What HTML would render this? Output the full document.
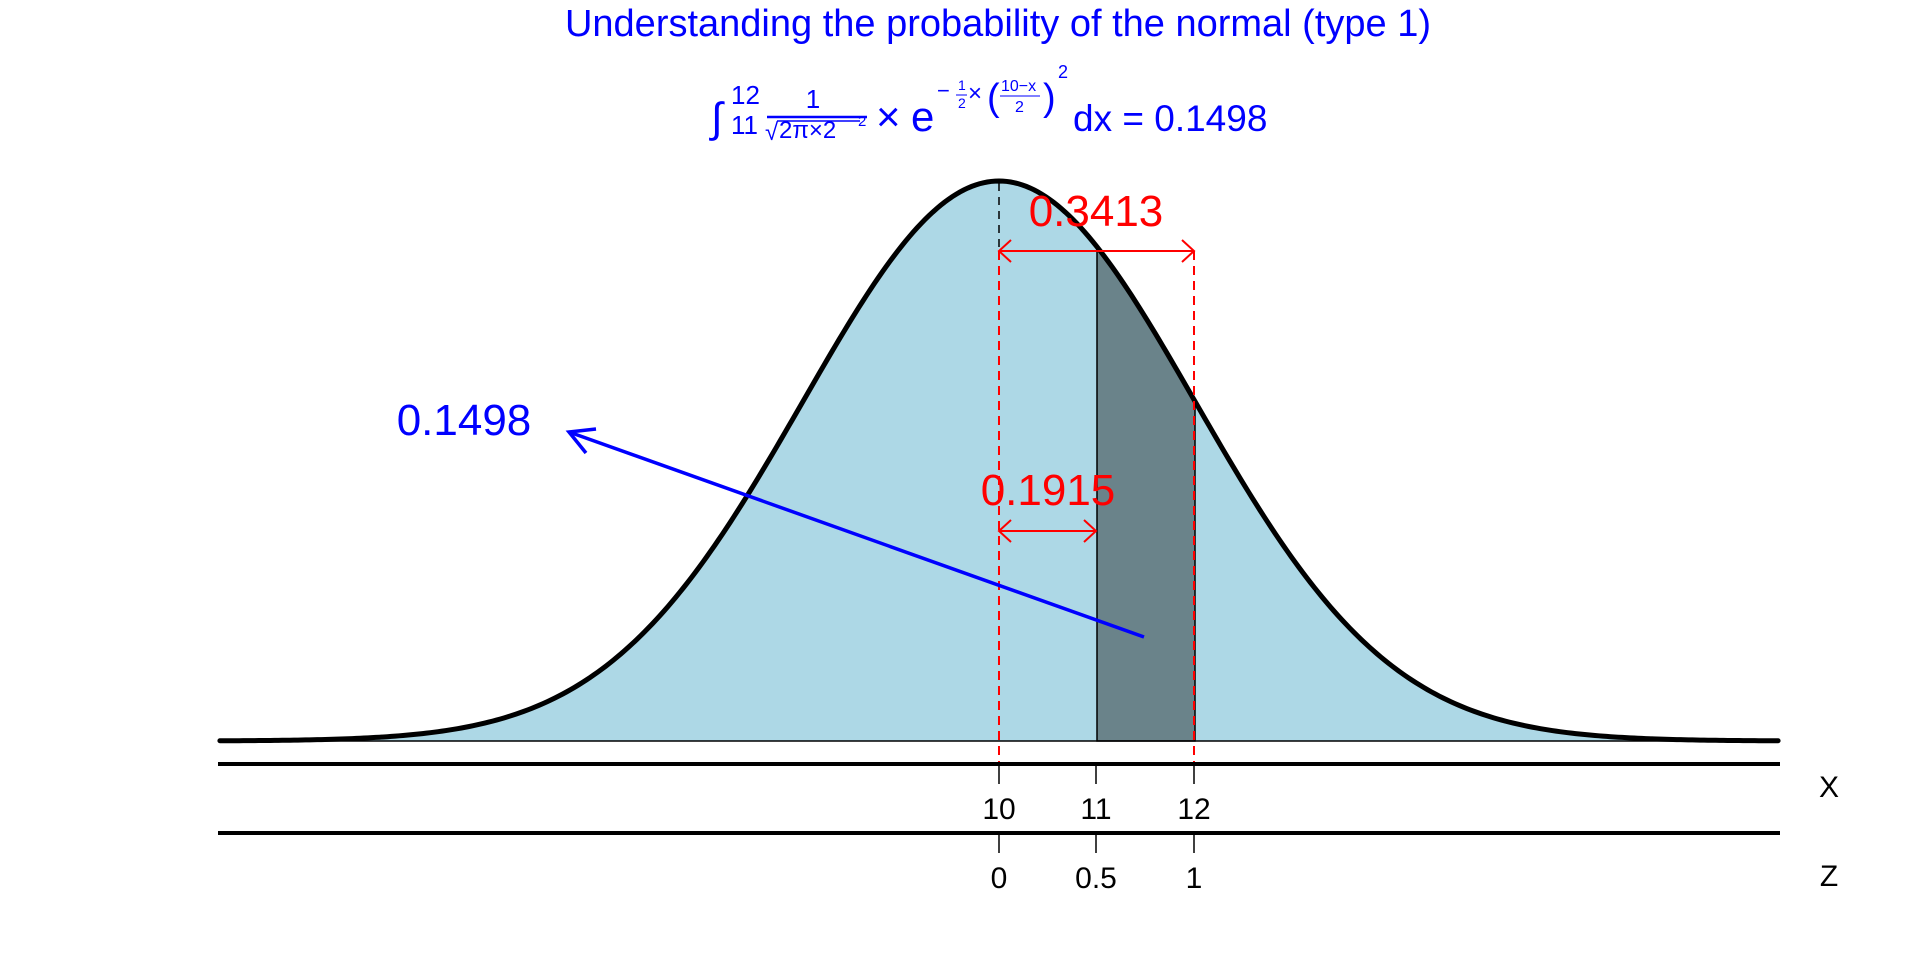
<!DOCTYPE html>
<html><head><meta charset="utf-8"><style>html,body{margin:0;padding:0;background:#fff}svg{display:block}</style></head>
<body>
<svg id="s" width="1920" height="960" xmlns="http://www.w3.org/2000/svg" font-family="Liberation Sans, sans-serif">
<g id="curve"></g>
<line x1="999" y1="183" x2="999" y2="251" stroke="#000" stroke-width="1.5" stroke-dasharray="8,6"/>
<line x1="999" y1="251" x2="999" y2="764" stroke="#f00" stroke-width="2" stroke-dasharray="9,6"/>
<line x1="1194" y1="251" x2="1194" y2="764" stroke="#f00" stroke-width="2" stroke-dasharray="9,6"/>
<g stroke="#f00" stroke-width="2" fill="none">
<line x1="999" y1="251" x2="1194" y2="251"/>
<polyline points="1011,240 999,251 1011,262"/><polyline points="1182,240 1194,251 1182,262"/>
<line x1="999" y1="531" x2="1096" y2="531"/>
<polyline points="1011,520 999,531 1011,542"/><polyline points="1084,520 1096,531 1084,542"/>
</g>
<text x="1096" y="226" font-size="44" fill="#f00" text-anchor="middle">0.3413</text>
<text x="1048" y="505" font-size="44" fill="#f00" text-anchor="middle">0.1915</text>
<line x1="1144" y1="637" x2="569" y2="432" stroke="#00f" stroke-width="3.5"/>
<polyline points="586,453 569,432 596,429" stroke="#00f" stroke-width="3.5" fill="none"/>
<text x="464" y="435" font-size="44" fill="#00f" text-anchor="middle">0.1498</text>
<g stroke="#000">
<line x1="218" y1="764" x2="1780" y2="764" stroke-width="4"/>
<line x1="218" y1="833" x2="1780" y2="833" stroke-width="4"/>
<line x1="999" y1="764" x2="999" y2="784" stroke-width="1.5"/>
<line x1="1096" y1="764" x2="1096" y2="784" stroke-width="1.5"/>
<line x1="1194" y1="764" x2="1194" y2="784" stroke-width="1.5"/>
<line x1="999" y1="833" x2="999" y2="853" stroke-width="1.5"/>
<line x1="1096" y1="833" x2="1096" y2="853" stroke-width="1.5"/>
<line x1="1194" y1="833" x2="1194" y2="853" stroke-width="1.5"/>
</g>
<g font-size="30" text-anchor="middle" fill="#000">
<text x="999" y="819">10</text><text x="1096" y="819">11</text><text x="1194" y="819">12</text>
<text x="999" y="888">0</text><text x="1096" y="888">0.5</text><text x="1194" y="888">1</text>
<text x="1829" y="797">X</text><text x="1829" y="886">Z</text>
</g>
<text x="998" y="36" font-size="38" fill="#00f" text-anchor="middle">Understanding the probability of the normal (type 1)</text>
<g fill="#00f">
<text x="711" y="132" font-size="42">∫</text>
<text x="731" y="104" font-size="26">12</text>
<text x="731" y="134" font-size="26">11</text>
<text x="813" y="108" font-size="26" text-anchor="middle">1</text>
<line x1="767" y1="117" x2="867" y2="117" stroke="#00f" stroke-width="2.5"/>
<text x="765" y="140" font-size="24">√</text>
<line x1="777" y1="121" x2="860" y2="121" stroke="#00f" stroke-width="1.5"/>
<text x="779" y="138" font-size="24">2π×2</text>
<text x="858" y="126" font-size="15">2</text>
<text x="876" y="131" font-size="42">×</text>
<text x="911" y="131" font-size="42">e</text>
<text x="937" y="98" font-size="22">−</text>
<text x="958" y="90" font-size="14">1</text>
<line x1="956" y1="95" x2="967" y2="95" stroke="#00f" stroke-width="1"/>
<text x="958" y="108" font-size="14">2</text>
<text x="968" y="101" font-size="24">×</text>
<text x="987" y="110" font-size="38">(</text>
<text x="1001" y="91" font-size="16">10−x</text>
<line x1="1000" y1="96" x2="1040" y2="96" stroke="#00f" stroke-width="1"/>
<text x="1015" y="112" font-size="16">2</text>
<text x="1043" y="110" font-size="38">)</text>
<text x="1058" y="78" font-size="18">2</text>
<text x="1073" y="131" font-size="37">dx = 0.1498</text>
</g>
<script>
(function(){
 var g=document.getElementById('curve');
 function X(x){return 999+98*(x-10);}
 function Y(x){return 741-560*Math.exp(-0.5*Math.pow((x-10)/2,2));}
 function path(a,b,n){var s='';for(var i=0;i<=n;i++){var x=a+(b-a)*i/n;s+=(i?'L':'M')+X(x).toFixed(2)+','+Y(x).toFixed(2);}return s;}
 var ns='http://www.w3.org/2000/svg';
 function add(d,attrs){var p=document.createElementNS(ns,'path');p.setAttribute('d',d);for(var k in attrs)p.setAttribute(k,attrs[k]);g.appendChild(p);}
 var a=2.05,b=17.95;
 add(path(a,b,400)+'L'+X(b)+',741L'+X(a)+',741Z',{fill:'#add8e6',stroke:'none'});
 add(path(11,12,60)+'L'+X(12)+',741L'+X(11)+',741Z',{fill:'#6a838a',stroke:'#000','stroke-width':'1.5'});
 add('M'+X(a)+',741L'+X(b)+',741',{stroke:'#000','stroke-width':'1.5',fill:'none'});
 add(path(a,b,400),{stroke:'#000','stroke-width':'5',fill:'none','stroke-linecap':'round'});
})();
</script>
</svg>
</body></html>
